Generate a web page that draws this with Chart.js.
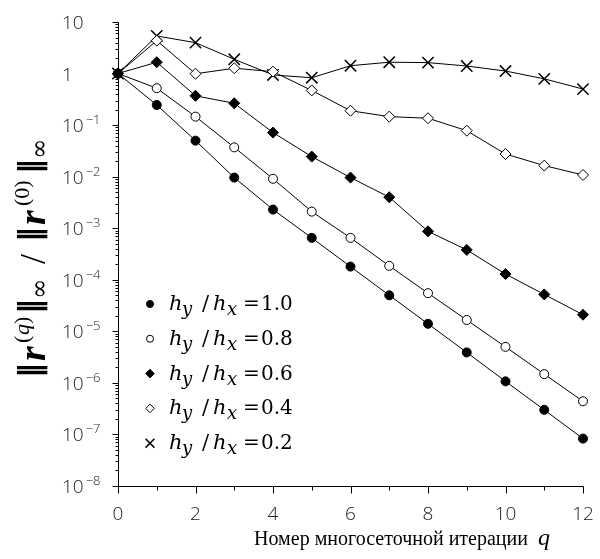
<!DOCTYPE html>
<html lang="ru">
<head>
<meta charset="UTF-8" />
<title>Сходимость многосеточного метода</title>
<script src="https://cdn.jsdelivr.net/npm/chart.js@4/dist/chart.umd.min.js"></script>
<style>
  html, body { margin: 0; padding: 0; background: #fff; }
  .container { width: 600px; height: 559px; }
</style>
</head>
<body>
<div class="container">
  <canvas id="myChart" width="600" height="559"></canvas>
</div>
<script>
// номер итерации q
const iterations = [0, 1, 2, 3, 4, 5, 6, 7, 8, 9, 10, 11, 12];

// отношения шагов сетки h_y / h_x
const ratios = ['1.0', '0.8', '0.6', '0.4', '0.2'];

// ||r(q)|| / ||r(0)|| для каждого отношения
const res10 = [1, 0.246, 0.050, 0.0096, 0.0023, 6.5e-4, 1.8e-4, 5.0e-5, 1.4e-5, 3.9e-6, 1.07e-6, 3.0e-7, 8.3e-8];
const res08 = [1, 0.52, 0.146, 0.037, 0.0091, 2.1e-3, 6.5e-4, 1.86e-4, 5.5e-5, 1.66e-5, 5.0e-6, 1.48e-6, 4.4e-7];
const res06 = [1, 1.66, 0.37, 0.265, 0.0716, 0.0245, 0.0096, 0.0040, 8.7e-4, 3.8e-4, 1.29e-4, 5.2e-5, 2.1e-5];
const res04 = [1, 4.35, 0.99, 1.27, 1.09, 0.47, 0.19, 0.146, 0.136, 0.078, 0.0275, 0.0164, 0.0108];
const res02 = [1, 5.36, 3.97, 1.89, 0.94, 0.83, 1.42, 1.66, 1.63, 1.40, 1.12, 0.79, 0.50];

// подписи осей
const yTickPowers = [1, 0, -1, -2, -3, -4, -5, -6, -7, -8];
const xTickLabels = [0, 2, 4, 6, 8, 10, 12];

const series = [res10, res08, res06, res04, res02];

// вид маркеров: [pointStyle, радиус, заливка, толщина]
const markers = [
	['circle', 4.5, '#000', 1],
	['circle', 4.5, '#fff', 1],
	['rectRot', 5.5, '#000', 1],
	['rectRot', 5.5, '#fff', 1],
	['crossRot', 8, '#000', 1.5]
];

const tickFont = "300 19px 'Open Sans', 'DejaVu Sans'";
const supFont = "300 13px 'Open Sans', 'DejaVu Sans'";
const serif = "'Liberation Serif'";
const mathSerif = "'DejaVu Serif'";

// строка из кусков разного шрифта; at — смещение куска от начала
function drawRuns(ctx, runs, x, y, center) {
	let total = 0;
	runs.forEach(r => {
		ctx.font = r.font;
		r.w = ctx.measureText(r.text).width;
		total += r.w + (r.gap || 0);
	});
	let cx = center ? x - total / 2 : x;
	runs.forEach(r => {
		ctx.font = r.font;
		const px = r.at !== undefined ? x + r.at : cx;
		ctx.fillText(r.text, px, y + (r.dy || 0));
		cx += r.w + (r.gap || 0);
	});
}

function drawMarkerPath(ctx, style, r, x, y) {
	if (style === 'circle') {
		ctx.arc(x, y, r, 0, Math.PI * 2);
	} else if (style === 'rectRot') {
		ctx.moveTo(x, y - r);
		ctx.lineTo(x + r, y);
		ctx.lineTo(x, y + r);
		ctx.lineTo(x - r, y);
		ctx.closePath();
	} else {
		const d = r * Math.SQRT1_2;
		ctx.moveTo(x - d, y - d);
		ctx.lineTo(x + d, y + d);
		ctx.moveTo(x + d, y - d);
		ctx.lineTo(x - d, y + d);
	}
}

const axesPlugin = {
	id: 'axesPlugin',
	beforeDatasetsDraw(chart) {
		const ctx = chart.ctx;
		const xs = chart.scales.x;
		const ys = chart.scales.y;
		const area = chart.chartArea;
		ctx.save();
		ctx.strokeStyle = '#000';
		ctx.lineWidth = 1;

		// ось Y и её засечки
		const ax = Math.round(area.left) + 0.5;
		ctx.beginPath();
		ctx.moveTo(ax, area.top);
		ctx.lineTo(ax, area.bottom + 0.5);
		yTickPowers.forEach(p => {
			const py = Math.round(ys.getPixelForValue(Math.pow(10, p))) + 0.5;
			ctx.moveTo(ax - 6, py);
			ctx.lineTo(ax, py);
			if (p > -8) {
				for (let k = 2; k <= 9; k++) {
					const my = Math.round(ys.getPixelForValue(k * Math.pow(10, p - 1))) + 0.5;
					ctx.moveTo(ax - 3, my);
					ctx.lineTo(ax, my);
				}
			}
		});
		// ось X
		const ay = Math.round(area.bottom) + 0.5;
		ctx.moveTo(area.left, ay);
		ctx.lineTo(area.right + 0.5, ay);
		iterations.forEach(q => {
			const px = Math.round(xs.getPixelForValue(q)) + 0.5;
			ctx.moveTo(px, ay);
			ctx.lineTo(px, ay + (q % 2 === 0 ? 7 : 4));
		});
		ctx.stroke();

		// подписи делений
		ctx.fillStyle = '#222';
		ctx.textBaseline = 'alphabetic';
		ctx.textAlign = 'left';
		yTickPowers.forEach(p => {
			const py = ys.getPixelForValue(Math.pow(10, p));
			ctx.font = tickFont;
			if (p === 1) {
				ctx.fillText('10', 62, py + 7);
			} else if (p === 0) {
				ctx.fillText('1', 62, py + 7);
			} else {
				ctx.fillText('10', 62, py + 7);
				const w = ctx.measureText('10').width;
				ctx.font = supFont;
				ctx.fillText('\u2212' + (-p), 62 + w + 2, py - 1);
			}
		});
		ctx.textAlign = 'center';
		ctx.font = tickFont;
		xTickLabels.forEach(q => {
			ctx.fillText(String(q), xs.getPixelForValue(q), 520);
		});
		ctx.restore();
	},
	afterDraw(chart) {
		const ctx = chart.ctx;
		ctx.save();
		ctx.fillStyle = '#000';
		ctx.textBaseline = 'alphabetic';
		ctx.textAlign = 'left';

		// подпись оси X
		drawRuns(ctx, [
			{ text: 'Номер многосеточной итерации', font: '20px ' + serif, gap: 10 },
			{ text: 'q', font: 'italic 24px ' + serif }
		], 402, 545, true);

		// подпись оси Y, повёрнутая
		const bar = "bold 30px 'DejaVu Sans'";
		const rFont = 'italic bold 38px ' + serif;
		const supF = '22px ' + serif;
		const inf = "24px 'DejaVu Serif'";
		const title = [
			{ text: '\u2016', font: bar, at: 0, dy: -5 },
			{ text: 'r', font: rFont, at: 17 },
			{ text: '(', font: supF, at: 35, dy: -16 },
			{ text: 'q', font: 'italic ' + supF, at: 43, dy: -16 },
			{ text: ')', font: supF, at: 54, dy: -16 },
			{ text: '\u2016', font: bar, at: 64, dy: -5 },
			{ text: '\u221e', font: inf, at: 79, dy: 2 },
			{ text: '/', font: '36px ' + serif, at: 114 },
			{ text: '\u2016', font: bar, at: 136, dy: -5 },
			{ text: 'r', font: rFont, at: 153 },
			{ text: '(0)', font: supF, at: 172, dy: -16 },
			{ text: '\u2016', font: bar, at: 204, dy: -5 },
			{ text: '\u221e', font: inf, at: 219, dy: 2 }
		];
		ctx.translate(45, 378);
		ctx.rotate(-Math.PI / 2);
		drawRuns(ctx, title, 0, 0, false);
		ctx.setTransform(1, 0, 0, 1, 0, 0);

		// легенда
		ratios.forEach((r, i) => {
			const y = 304 + i * 34.8;
			const m = markers[i];
			ctx.fillStyle = m[2];
			ctx.strokeStyle = '#000';
			ctx.lineWidth = m[3];
			ctx.beginPath();
			drawMarkerPath(ctx, m[0], m[1] * 0.78, 150, y);
			if (m[0] !== 'crossRot') ctx.fill();
			ctx.stroke();
			ctx.fillStyle = '#000';
			drawRuns(ctx, [
				{ text: 'h', font: 'italic 21px ' + mathSerif, at: 0 },
				{ text: 'y', font: 'italic 18px ' + mathSerif, at: 13, dy: 5 },
				{ text: '/', font: '21px ' + mathSerif, at: 33 },
				{ text: 'h', font: 'italic 21px ' + mathSerif, at: 44 },
				{ text: 'x', font: 'italic 18px ' + mathSerif, at: 58, dy: 5 },
				{ text: '=', font: '20px ' + mathSerif, at: 74 },
				{ text: r, font: '20px ' + mathSerif, at: 92 }
			], 169, y + 6, false);
		});
		ctx.restore();
	}
};

const ctx = document.getElementById('myChart').getContext('2d');
const myChart = new Chart(ctx, {
	type: 'line',
	data: {
		datasets: series.map((arr, i) => ({
			label: 'h_y/h_x=' + ratios[i],
			data: iterations.map((q, j) => ({ x: q, y: arr[j] })),
			fill: false,
			tension: 0,
			clip: false,
			borderColor: '#000',
			borderWidth: 1,
			pointStyle: markers[i][0],
			pointRadius: markers[i][1],
			pointBackgroundColor: markers[i][2],
			pointBorderColor: '#000',
			pointBorderWidth: markers[i][3]
		}))
	},
	options: {
		responsive: false,
		animation: false,
		devicePixelRatio: 1,
		layout: { padding: { left: 118, right: 17, top: 22, bottom: 73 } },
		plugins: {
			legend: { display: false },
			tooltip: { enabled: false }
		},
		scales: {
			x: { type: 'linear', min: 0, max: 12, display: false },
			y: { type: 'logarithmic', min: 1e-8, max: 10, display: false }
		}
	},
	plugins: [axesPlugin]
});
</script>
</body>
</html>
